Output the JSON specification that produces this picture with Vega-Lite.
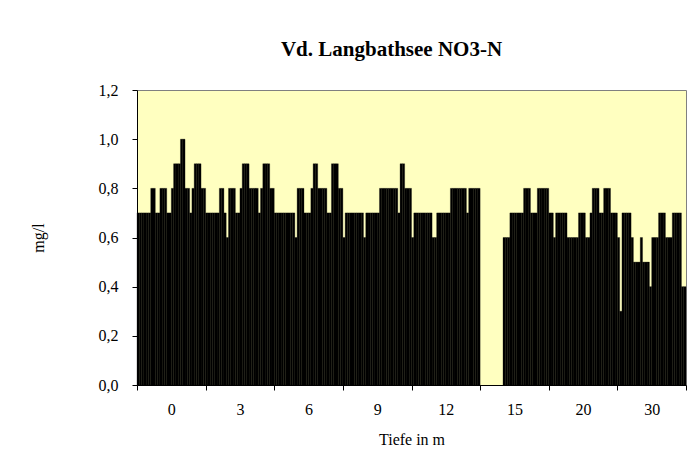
{
  "$schema": "https://vega.github.io/schema/vega-lite/v6.json",
  "width": 549,
  "height": 295,
  "autosize": {"type": "none"},
  "padding": {"left": 137, "top": 90, "right": 12, "bottom": 76},
  "background": "white",
  "config": {
    "view": {"fill": "#FFFFC0", "stroke": "#808080", "strokeWidth": 1},
    "font": "Liberation Serif"
  },
  "title": {
    "text": "Vd. Langbathsee NO3-N",
    "font": "Liberation Serif",
    "fontSize": 21,
    "fontWeight": "bold",
    "color": "black",
    "anchor": "middle",
    "frame": "group",
    "baseline": "alphabetic",
    "offset": 5,
    "dx": -20
  },
  "data": {
    "values": [
      {"d":"0","s":0,"v":0.7},{"d":"0","s":1,"v":0.7},{"d":"0","s":2,"v":0.7},{"d":"0","s":3,"v":0.7},{"d":"0","s":4,"v":0.7},{"d":"0","s":5,"v":0.7},{"d":"0","s":6,"v":0.8},{"d":"0","s":7,"v":0.8},{"d":"0","s":8,"v":0.7},{"d":"0","s":9,"v":0.7},
      {"d":"0","s":10,"v":0.8},{"d":"0","s":11,"v":0.8},{"d":"0","s":12,"v":0.8},{"d":"0","s":13,"v":0.7},{"d":"0","s":14,"v":0.7},{"d":"0","s":15,"v":0.8},{"d":"0","s":16,"v":0.9},{"d":"0","s":17,"v":0.9},{"d":"0","s":18,"v":0.9},{"d":"0","s":19,"v":1.0},
      {"d":"0","s":20,"v":1.0},{"d":"0","s":21,"v":0.8},{"d":"0","s":22,"v":0.8},{"d":"0","s":23,"v":0.7},{"d":"0","s":24,"v":0.8},{"d":"0","s":25,"v":0.9},{"d":"0","s":26,"v":0.9},{"d":"0","s":27,"v":0.9},{"d":"0","s":28,"v":0.8},{"d":"0","s":29,"v":0.8},
      {"d":"3","s":0,"v":0.7},{"d":"3","s":1,"v":0.7},{"d":"3","s":2,"v":0.7},{"d":"3","s":3,"v":0.7},{"d":"3","s":4,"v":0.7},{"d":"3","s":5,"v":0.7},{"d":"3","s":6,"v":0.8},{"d":"3","s":7,"v":0.8},{"d":"3","s":8,"v":0.7},{"d":"3","s":9,"v":0.6},
      {"d":"3","s":10,"v":0.8},{"d":"3","s":11,"v":0.8},{"d":"3","s":12,"v":0.8},{"d":"3","s":13,"v":0.7},{"d":"3","s":14,"v":0.7},{"d":"3","s":15,"v":0.8},{"d":"3","s":16,"v":0.9},{"d":"3","s":17,"v":0.9},{"d":"3","s":18,"v":0.9},{"d":"3","s":19,"v":0.8},
      {"d":"3","s":20,"v":0.8},{"d":"3","s":21,"v":0.8},{"d":"3","s":22,"v":0.8},{"d":"3","s":23,"v":0.7},{"d":"3","s":24,"v":0.8},{"d":"3","s":25,"v":0.9},{"d":"3","s":26,"v":0.9},{"d":"3","s":27,"v":0.9},{"d":"3","s":28,"v":0.8},{"d":"3","s":29,"v":0.8},
      {"d":"6","s":0,"v":0.7},{"d":"6","s":1,"v":0.7},{"d":"6","s":2,"v":0.7},{"d":"6","s":3,"v":0.7},{"d":"6","s":4,"v":0.7},{"d":"6","s":5,"v":0.7},{"d":"6","s":6,"v":0.7},{"d":"6","s":7,"v":0.7},{"d":"6","s":8,"v":0.7},{"d":"6","s":9,"v":0.6},
      {"d":"6","s":10,"v":0.8},{"d":"6","s":11,"v":0.8},{"d":"6","s":12,"v":0.8},{"d":"6","s":13,"v":0.7},{"d":"6","s":14,"v":0.7},{"d":"6","s":15,"v":0.7},{"d":"6","s":16,"v":0.8},{"d":"6","s":17,"v":0.9},{"d":"6","s":18,"v":0.9},{"d":"6","s":19,"v":0.8},
      {"d":"6","s":20,"v":0.8},{"d":"6","s":21,"v":0.8},{"d":"6","s":22,"v":0.8},{"d":"6","s":23,"v":0.7},{"d":"6","s":24,"v":0.7},{"d":"6","s":25,"v":0.9},{"d":"6","s":26,"v":0.9},{"d":"6","s":27,"v":0.9},{"d":"6","s":28,"v":0.8},{"d":"6","s":29,"v":0.8},
      {"d":"9","s":0,"v":0.6},{"d":"9","s":1,"v":0.7},{"d":"9","s":2,"v":0.7},{"d":"9","s":3,"v":0.7},{"d":"9","s":4,"v":0.7},{"d":"9","s":5,"v":0.7},{"d":"9","s":6,"v":0.7},{"d":"9","s":7,"v":0.7},{"d":"9","s":8,"v":0.7},{"d":"9","s":9,"v":0.6},
      {"d":"9","s":10,"v":0.7},{"d":"9","s":11,"v":0.7},{"d":"9","s":12,"v":0.7},{"d":"9","s":13,"v":0.7},{"d":"9","s":14,"v":0.7},{"d":"9","s":15,"v":0.7},{"d":"9","s":16,"v":0.8},{"d":"9","s":17,"v":0.8},{"d":"9","s":18,"v":0.8},{"d":"9","s":19,"v":0.8},
      {"d":"9","s":20,"v":0.8},{"d":"9","s":21,"v":0.8},{"d":"9","s":22,"v":0.8},{"d":"9","s":23,"v":0.8},{"d":"9","s":24,"v":0.7},{"d":"9","s":25,"v":0.9},{"d":"9","s":26,"v":0.9},{"d":"9","s":27,"v":0.8},{"d":"9","s":28,"v":0.8},{"d":"9","s":29,"v":0.8},
      {"d":"12","s":0,"v":0.6},{"d":"12","s":1,"v":0.7},{"d":"12","s":2,"v":0.7},{"d":"12","s":3,"v":0.7},{"d":"12","s":4,"v":0.7},{"d":"12","s":5,"v":0.7},{"d":"12","s":6,"v":0.7},{"d":"12","s":7,"v":0.7},{"d":"12","s":8,"v":0.7},{"d":"12","s":9,"v":0.6},
      {"d":"12","s":10,"v":0.6},{"d":"12","s":11,"v":0.7},{"d":"12","s":12,"v":0.7},{"d":"12","s":13,"v":0.7},{"d":"12","s":14,"v":0.7},{"d":"12","s":15,"v":0.7},{"d":"12","s":16,"v":0.7},{"d":"12","s":17,"v":0.8},{"d":"12","s":18,"v":0.8},{"d":"12","s":19,"v":0.8},
      {"d":"12","s":20,"v":0.8},{"d":"12","s":21,"v":0.8},{"d":"12","s":22,"v":0.8},{"d":"12","s":23,"v":0.8},{"d":"12","s":24,"v":0.7},{"d":"12","s":25,"v":0.8},{"d":"12","s":26,"v":0.8},{"d":"12","s":27,"v":0.8},{"d":"12","s":28,"v":0.8},{"d":"12","s":29,"v":0.8},
      {"d":"15","s":10,"v":0.6},{"d":"15","s":11,"v":0.6},{"d":"15","s":12,"v":0.6},{"d":"15","s":13,"v":0.7},{"d":"15","s":14,"v":0.7},{"d":"15","s":15,"v":0.7},{"d":"15","s":16,"v":0.7},{"d":"15","s":17,"v":0.7},{"d":"15","s":18,"v":0.7},{"d":"15","s":19,"v":0.8},
      {"d":"15","s":20,"v":0.8},{"d":"15","s":21,"v":0.8},{"d":"15","s":22,"v":0.7},{"d":"15","s":23,"v":0.7},{"d":"15","s":24,"v":0.7},{"d":"15","s":25,"v":0.8},{"d":"15","s":26,"v":0.8},{"d":"15","s":27,"v":0.8},{"d":"15","s":28,"v":0.8},{"d":"15","s":29,"v":0.8},
      {"d":"20","s":0,"v":0.7},{"d":"20","s":1,"v":0.7},{"d":"20","s":2,"v":0.6},{"d":"20","s":3,"v":0.7},{"d":"20","s":4,"v":0.7},{"d":"20","s":5,"v":0.7},{"d":"20","s":6,"v":0.7},{"d":"20","s":7,"v":0.7},{"d":"20","s":8,"v":0.6},{"d":"20","s":9,"v":0.6},
      {"d":"20","s":10,"v":0.6},{"d":"20","s":11,"v":0.6},{"d":"20","s":12,"v":0.6},{"d":"20","s":13,"v":0.7},{"d":"20","s":14,"v":0.7},{"d":"20","s":15,"v":0.7},{"d":"20","s":16,"v":0.6},{"d":"20","s":17,"v":0.6},{"d":"20","s":18,"v":0.7},{"d":"20","s":19,"v":0.8},
      {"d":"20","s":20,"v":0.8},{"d":"20","s":21,"v":0.8},{"d":"20","s":22,"v":0.7},{"d":"20","s":23,"v":0.7},{"d":"20","s":24,"v":0.8},{"d":"20","s":25,"v":0.8},{"d":"20","s":26,"v":0.8},{"d":"20","s":27,"v":0.7},{"d":"20","s":28,"v":0.7},{"d":"20","s":29,"v":0.7},
      {"d":"30","s":0,"v":0.6},{"d":"30","s":1,"v":0.3},{"d":"30","s":2,"v":0.7},{"d":"30","s":3,"v":0.7},{"d":"30","s":4,"v":0.7},{"d":"30","s":5,"v":0.7},{"d":"30","s":6,"v":0.6},{"d":"30","s":7,"v":0.5},{"d":"30","s":8,"v":0.5},{"d":"30","s":9,"v":0.5},
      {"d":"30","s":10,"v":0.6},{"d":"30","s":11,"v":0.5},{"d":"30","s":12,"v":0.5},{"d":"30","s":13,"v":0.5},{"d":"30","s":14,"v":0.4},{"d":"30","s":15,"v":0.6},{"d":"30","s":16,"v":0.6},{"d":"30","s":17,"v":0.6},{"d":"30","s":18,"v":0.7},{"d":"30","s":19,"v":0.7},
      {"d":"30","s":20,"v":0.7},{"d":"30","s":21,"v":0.6},{"d":"30","s":22,"v":0.6},{"d":"30","s":23,"v":0.6},{"d":"30","s":24,"v":0.7},{"d":"30","s":25,"v":0.7},{"d":"30","s":26,"v":0.7},{"d":"30","s":27,"v":0.7},{"d":"30","s":28,"v":0.4},{"d":"30","s":29,"v":0.4}
    ]
  },
  "mark": {"type": "bar", "fill": "black", "stroke": "black", "strokeWidth": 0.3},
  "encoding": {
    "x": {
      "field": "d",
      "type": "ordinal",
      "sort": ["0", "3", "6", "9", "12", "15", "20", "30"],
      "scale": {"paddingInner": 0, "paddingOuter": 0},
      "axis": {
        "title": "Tiefe in m",
        "titleFont": "Liberation Serif",
        "titleFontSize": 16,
        "titleFontWeight": "normal",
        "titleColor": "black",
        "titlePadding": 14,
        "labelFont": "Liberation Serif",
        "labelFontSize": 16,
        "labelColor": "black",
        "labelAngle": 0,
        "labelPadding": 11,
        "tickBand": "extent",
        "tickSize": 5,
        "tickColor": "black",
        "domainColor": "black",
        "grid": false
      }
    },
    "xOffset": {
      "field": "s",
      "type": "ordinal",
      "scale": {"paddingInner": 0, "paddingOuter": 0}
    },
    "y": {
      "field": "v",
      "type": "quantitative",
      "scale": {"domain": [0, 1.2]},
      "axis": {
        "title": "mg/l",
        "titleFont": "Liberation Serif",
        "titleFontSize": 16,
        "titleFontWeight": "normal",
        "titleColor": "black",
        "titlePadding": 52,
        "values": [0, 0.2, 0.4, 0.6, 0.8, 1.0, 1.2],
        "labelExpr": "replace(format(datum.value, '.1f'), '.', ',')",
        "labelFont": "Liberation Serif",
        "labelFontSize": 16,
        "labelColor": "black",
        "labelPadding": 14,
        "tickSize": 5,
        "tickColor": "black",
        "domainColor": "black",
        "grid": false
      }
    }
  }
}
